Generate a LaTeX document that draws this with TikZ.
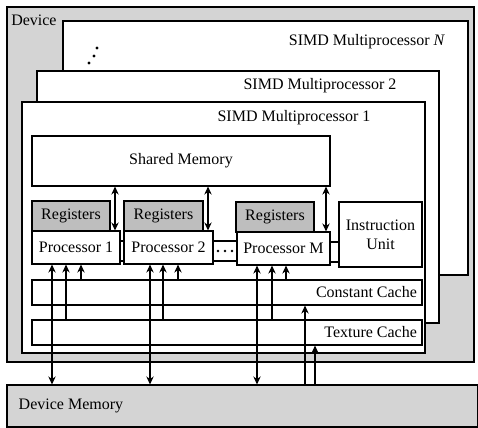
\documentclass[tikz,border=0pt]{standalone}
\usepackage{fontspec}
\setmainfont{Liberation Serif}
\usetikzlibrary{fit,arrows.meta}
\definecolor{devgray}{RGB}{212,212,212}
\definecolor{reggray}{RGB}{190,190,190}
\tikzset{
  box/.style={draw=black, line width=0.8pt, fill=white, inner sep=0pt},
  graybox/.style={box, fill=reggray},
  lbl/.style={font=\fontsize{12}{13.5}\selectfont, inner sep=0pt},
  conn/.style={line width=1.1pt},
  up/.style={conn, -{Stealth[length=6pt,width=5.5pt]}},
  both/.style={conn, {Stealth[length=6pt,width=5.5pt]}-{Stealth[length=6pt,width=5.5pt]}},
}
\begin{document}
\begin{tikzpicture}[x=0.75pt,y=-0.75pt]
\useasboundingbox (0,0) rectangle (478,428);
% device
\node[box, fill=devgray, fit={(7,7) (474,362)}] (dev) {};
\node[lbl, anchor=north west] (devlbl) at (11,15) {Device};
% multiprocessor N
\node[box, fit={(63,21) (468,275)}] (mpN) {};
\node[lbl] (mpNlbl) at (367,42) {SIMD Multiprocessor \textit{N}};
\fill (97,48) circle (1.6) (94,56) circle (1.6) (89,63) circle (1.6);
% multiprocessor 2
\node[box, fit={(37,71) (439,323)}] (mp2) {};
\node[lbl] (mp2lbl) at (320,86) {SIMD Multiprocessor 2};
% multiprocessor 1
\node[box, fit={(22,102) (425,353)}] (mp1) {};
\node[lbl] (mp1lbl) at (294,118) {SIMD Multiprocessor 1};
% shared memory
\node[box, lbl, fit={(32,136) (330,186)}] (smem) {};
\node[lbl] at (smem.center) {Shared Memory};
% registers
\node[graybox, fit={(32,201) (110,231)}] (reg1) {};
\node[lbl] at (reg1.center) {Registers};
\node[graybox, fit={(124,201) (203,231)}] (reg2) {};
\node[lbl] at (reg2.center) {Registers};
\node[graybox, fit={(236,202) (314,232)}] (regM) {};
\node[lbl] at (regM.center) {Registers};
% processors
\node[box, fit={(32,231) (120,264)}] (p1) {};
\node[lbl] at (p1.center) {Processor 1};
\node[box, fit={(124,231) (213,264)}] (p2) {};
\node[lbl] at (p2.center) {Processor 2};
\node[box, fit={(237,232) (330,265)}] (pM) {};
\node[lbl] at (pM.center) {Processor M};
\node[box, fit={(213,241) (237,261)}] (dots) {};
\fill (218,251) circle (1.4) (225,251) circle (1.4) (232,251) circle (1.4);
\node[box, fit={(120,241) (124,261)}] (b12) {};
% instruction unit
\node[box, fit={(339,202) (422,267)}] (iu) {};
\node[lbl, align=center] at (iu.center) {Instruction\\[1pt]Unit};
\node[box, fit={(330,242) (339,262)}] (bMi) {};
% caches
\node[box, fit={(32,280) (422,305)}] (cc) {};
\node[lbl, anchor=east] at ([xshift=-4pt]cc.east) {Constant Cache};
\node[box, fit={(32,320) (422,345)}] (tc) {};
\node[lbl, anchor=east] at ([xshift=-4pt]tc.east) {Texture Cache};
% device memory
\node[box, fill=devgray, fit={(7,385) (478,427)}] (dmem) {};
\node[lbl, anchor=west] at ([xshift=9pt]dmem.west) {Device Memory};
% x positions
\foreach \n/\x in {a1/115,a2/208,aM/326,
  d1/52,t1/66,c1/81, d2/150,t2/163,c2/178, dM/257,tM/272,cM/286,
  mc/305,mt/315}{\coordinate (\n) at (\x,0);}
% shared memory <-> processors
\draw[both] (smem.south -| a1) -- (p1.north -| a1);
\draw[both] (smem.south -| a2) -- (p2.north -| a2);
\draw[both] (smem.south -| aM) -- (pM.north -| aM);
% processors <-> device memory, caches -> processors
\foreach \d/\t/\c/\p in {d1/t1/c1/p1, d2/t2/c2/p2, dM/tM/cM/pM}{
  \draw[both] (\p.south -| \d) -- (dmem.north -| \d);
  \draw[up] (tc.north -| \t) -- (\p.south -| \t);
  \draw[up] (cc.north -| \c) -- (\p.south -| \c);
}
\draw[up] (dmem.north -| mc) -- (cc.south -| mc);
\draw[up] (dmem.north -| mt) -- (tc.south -| mt);
\end{tikzpicture}
\end{document}
